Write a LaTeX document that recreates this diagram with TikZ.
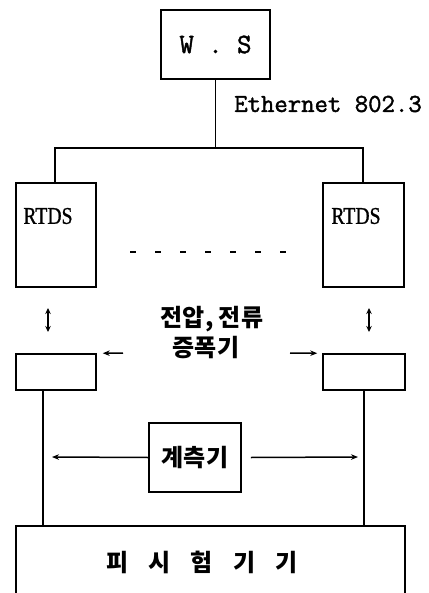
\documentclass[tikz,border=0pt]{standalone}
\usepackage{fontspec}
\newfontfamily\kr{Noto Sans CJK KR}
\newfontfamily\rtdsfont{Liberation Serif}[FakeBold=1]
\newfontfamily\ttb{Latin Modern Mono}[FakeBold=1.6]
\usetikzlibrary{arrows.meta}
\begin{document}
\begin{tikzpicture}[x=1pt,y=-1pt,
  line width=1.5pt,
  box/.style={draw,rectangle,inner sep=0pt,line width=1.5pt},
  arr/.style={-{Stealth[length=7pt,width=5.5pt]},line width=1.5pt},
  darr/.style={{Stealth[length=6pt,width=5.5pt]}-{Stealth[length=6pt,width=5.5pt]},line width=2pt},
  krtext/.style={font=\kr\bfseries\fontsize{24}{27}\selectfont,inner sep=0pt},
  tttext/.style={font=\ttb\fontsize{26}{28}\selectfont,inner sep=0pt}]
\useasboundingbox (0,0) rectangle (428,593);
\clip (0,0) rectangle (428,593);
% boxes
\node[box,minimum width=109pt,minimum height=69pt] (ws) at (215.5,44.5) {};
\node[tttext,font=\ttb\fontsize{28}{30}\selectfont] (wstext) at (215.5,44.5) {W . S};
\node[box,minimum width=80pt,minimum height=104pt] (rtdsL) at (56,235) {};
\node[box,minimum width=81pt,minimum height=104pt] (rtdsR) at (363.5,235) {};
\node[font=\rtdsfont\fontsize{24}{26}\selectfont,inner sep=0pt,xscale=0.82] (rtdsLt) at (48,216) {RTDS};
\node[font=\rtdsfont\fontsize{24}{26}\selectfont,inner sep=0pt,xscale=0.82] (rtdsRt) at (356,216) {RTDS};
\node[box,minimum width=80pt,minimum height=36pt] (ampL) at (56,372) {};
\node[box,minimum width=82pt,minimum height=36pt] (ampR) at (364,372) {};
\node[box,minimum width=92pt,minimum height=69pt] (meter) at (195,457.5) {};
\node[krtext] (metert) at (195,458) {계측기};
\node[box,minimum width=389pt,minimum height=100pt] (dut) at (210.5,576) {};
\node[krtext] (dutt) at (202,562) {피\hspace{20pt}시\hspace{20pt}험\hspace{20pt}기\hspace{20pt}기};
% labels
\node[tttext] (eth) at (328,104) {Ethernet 802.3};
\node[krtext] (amp1) at (212,319) {전압, 전류};
\node[krtext] (amp2) at (206,348) {증폭기};
% network bus
\coordinate (busC) at (215.5,148);
\coordinate (busL) at (55,148);
\coordinate (busR) at (363,148);
\draw (ws.south) -- (busC);
\draw (busL |- rtdsL.north) -- (busL) -- (busR) -- (busR |- rtdsR.north);
% dashed
\coordinate (dA) at (130,252);
\coordinate (dB) at (302,252);
\draw[dash pattern=on 6pt off 19pt] (dA) -- (dB);
% double arrows
\coordinate (dlA) at (48,308);
\coordinate (dlB) at (48,332);
\coordinate (drA) at (369,308);
\coordinate (drB) at (369,332);
\draw[darr] (dlA) -- (dlB);
\draw[darr] (drA) -- (drB);
% amplifier arrows
\coordinate (alA) at (123,353);
\coordinate (arA) at (290,353);
\draw[arr] (alA) -- ([xshift=6pt]ampL.north east);
\draw[arr] (arA) -- ([xshift=-5pt]ampR.north west);
% verticals to DUT
\coordinate (vl) at (43,0);
\coordinate (vr) at (364,0);
\draw (ampL.south -| vl) -- (dut.north -| vl);
\draw (ampR.south -| vr) -- (dut.north -| vr);
% meter arrows
\coordinate (ml) at (52,457);
\coordinate (mr) at (358,457);
\draw[arr] (meter.west) -- (ml);
\draw[arr] ([xshift=9pt]meter.east) -- (mr);
\end{tikzpicture}
\end{document}
